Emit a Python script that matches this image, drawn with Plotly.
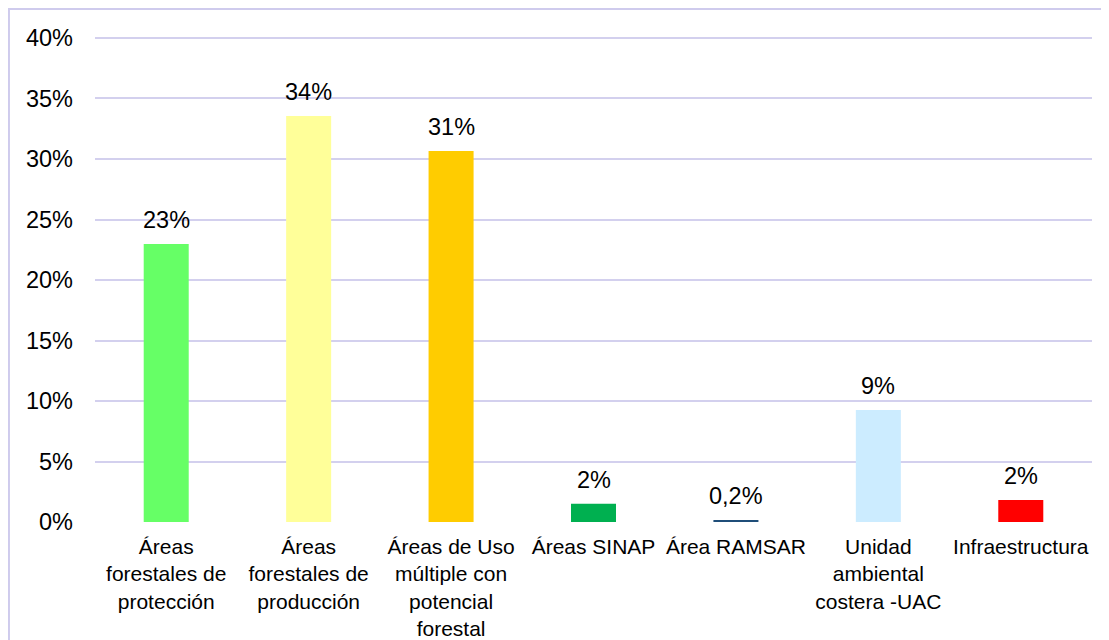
import plotly.graph_objects as go

categories = [
    "Áreas<br>forestales de<br>protección",
    "Áreas<br>forestales de<br>producción",
    "Áreas de Uso<br>múltiple con<br>potencial<br>forestal",
    "Áreas SINAP",
    "Área RAMSAR",
    "Unidad<br>ambiental<br>costera -UAC",
    "Infraestructura",
]
values = [22.98, 33.55, 30.66, 1.5, 0.17, 9.26, 1.82]
value_labels = ["23%", "34%", "31%", "2%", "0,2%", "9%", "2%"]
colors = ["#66FF66", "#FFFF99", "#FFCC00", "#00B050", "#1F4E79", "#CCECFF", "#FF0000"]
y_ticks = [0, 5, 10, 15, 20, 25, 30, 35, 40]

FONT = "Liberation Sans, Arial, sans-serif"

fig = go.Figure()
fig.add_trace(go.Bar(
    x=categories,
    y=values,
    marker=dict(color=colors, line=dict(width=0)),
    width=0.316,
    hoverinfo="skip",
))

for c, v, t in zip(categories, values, value_labels):
    fig.add_annotation(
        x=c, y=v, text=t, showarrow=False, yanchor="bottom",
        yshift=9, font=dict(family=FONT, size=23.5, color="#000000"),
    )

# outer chart border
fig.add_shape(
    type="rect", xref="paper", yref="paper",
    x0=-0.0863, y0=-0.26, x1=1.03, y1=1.0512,
    line=dict(color="#CFCBED", width=2), fillcolor="rgba(0,0,0,0)",
    layer="below",
)

# page body has an 8px margin, so the figure is sized to fill the rest
fig.update_layout(
    width=1101, height=632,
    margin=dict(l=87, r=17, t=26, b=118, autoexpand=False),
    paper_bgcolor="white", plot_bgcolor="white",
    showlegend=False,
    font=dict(family=FONT, color="#000000"),
    xaxis=dict(
        showgrid=False, showline=False, ticks="",
        tickfont=dict(family=FONT, size=21, color="#000000"),
        ticklabelstandoff=10, tickangle=0, fixedrange=True, automargin=False,
    ),
    yaxis=dict(
        range=[0, 40.33], tickvals=y_ticks,
        ticktext=[f"{v}%" for v in y_ticks],
        showgrid=True, gridcolor="#D3D0EE", gridwidth=1.5,
        zeroline=False, showline=False, ticks="",
        tickfont=dict(family=FONT, size=23.5, color="#000000"),
        ticklabelstandoff=21, fixedrange=True, automargin=False,
    ),
)

fig.write_html("out.html")
